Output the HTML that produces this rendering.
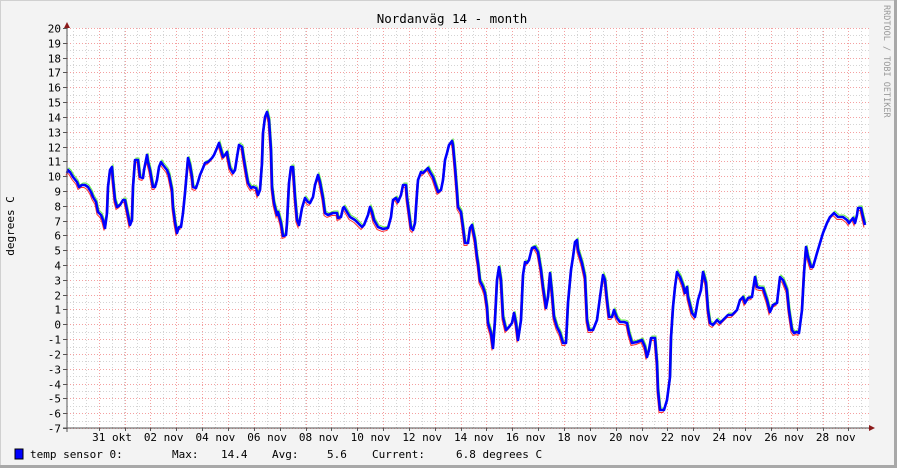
<!DOCTYPE html>
<html><head><meta charset="utf-8"><style>
html,body{margin:0;padding:0;background:#f3f3f3;}
svg{display:block;font-family:"DejaVu Sans Mono","Liberation Mono",monospace;}
</style></head><body>
<svg id="s" width="897" height="468" xmlns="http://www.w3.org/2000/svg">
<rect x="0" y="0" width="897" height="468" fill="#f3f3f3"/>
<rect x="0" y="0" width="897" height="1" fill="#d0d0d0"/>
<rect x="0" y="0" width="1" height="468" fill="#d0d0d0"/>
<rect x="0" y="465" width="897" height="3" fill="#a8a8a8"/>
<rect x="894" y="0" width="3" height="468" fill="#a8a8a8"/>
<rect x="67" y="28" width="802" height="400" fill="#ffffff"/>
<g id="grid"></g>
<g id="data"></g>
<line x1="67" y1="24" x2="67" y2="432" stroke="#555" stroke-width="1"/>
<line x1="63" y1="428" x2="870" y2="428" stroke="#555" stroke-width="1"/>
<polygon points="64,28 70,28 67,22" fill="#8b1a1a"/>
<polygon points="869,425 869,431 875,428" fill="#8b1a1a"/>
<g id="labels" font-size="11" fill="#000"></g>
<text x="452" y="23" font-size="12.5" text-anchor="middle" fill="#000">Nordanväg 14 - month</text>
<text transform="translate(14,226) rotate(-90)" font-size="11" text-anchor="middle" fill="#000">degrees C</text>
<text transform="translate(884,5) rotate(90)" font-size="8.5" fill="#999">RRDTOOL / TOBI OETIKER</text>
<rect x="15" y="449" width="8" height="10" fill="#0000ff" stroke="#000" stroke-width="1"/>
<g font-size="11" fill="#000">
<text x="30" y="458">temp sensor 0:</text>
<text x="172" y="458">Max:</text>
<text x="221" y="458">14.4</text>
<text x="272" y="458">Avg:</text>
<text x="327" y="458">5.6</text>
<text x="372" y="458">Current:</text>
<text x="456" y="458">6.8 degrees C</text>
</g>
</svg>
<script>
var NS="http://www.w3.org/2000/svg";
function el(p,t,a){var e=document.createElementNS(NS,t);for(var k in a)e.setAttribute(k,a[k]);p.appendChild(e);return e;}
var g=document.getElementById('grid'),lb=document.getElementById('labels');
var L=67,R=869,T=28,B=428,u=400/27;
function Y(v){return T+(20-v)*u;}
// minor horizontal
for(var v=-7;v<=20;v+=0.5){var y=Math.round(Y(v))+0.5;var maj=(v%1===0);
 el(g,'line',{x1:L,x2:R,y1:y,y2:y,stroke:maj?'#f4a0a0':'#d4d4d4','stroke-width':1,'stroke-dasharray':'1,2'});
 if(maj){el(g,'line',{x1:63,x2:67,y1:y,y2:y,stroke:'#555'});
  var t=el(lb,'text',{x:61,y:y+4,'text-anchor':'end'});t.textContent=String(v);}}
// verticals
for(var x=72.8;x<R;x+=12.925){var xx=Math.round(x)+0.5;
 el(g,'line',{x1:xx,x2:xx,y1:T,y2:B,stroke:'#d4d4d4','stroke-dasharray':'1,2'});}
for(var x=98.7;x<R;x+=25.85){var xx=Math.round(x)+0.5;
 el(g,'line',{x1:xx,x2:xx,y1:T,y2:B,stroke:'#f4a0a0','stroke-dasharray':'1,2'});
 el(g,'line',{x1:xx,x2:xx,y1:B,y2:B+3,stroke:'#555'});}
var labs=["31 okt","02 nov","04 nov","06 nov","08 nov","10 nov","12 nov","14 nov","16 nov","18 nov","20 nov","22 nov","24 nov","26 nov","28 nov"];
for(var i=0;i<labs.length;i++){var t=el(lb,'text',{x:112+i*51.7,y:441,'text-anchor':'middle'});t.textContent=labs[i];}
var pts="67,173 68,170 70,172 73,177 77,182 79,187 82,185 85,185 88,187 91,192 93,197 96,202 98,212 101,215 103,220 105,228 107,213 108,187 110,170 112,167 113,180 115,200 117,207 120,205 123,200 125,200 127,210 130,225 132,220 133,187 135,160 138,160 140,177 143,178 144,170 147,155 148,162 150,170 153,187 155,187 157,180 159,167 161,162 163,165 167,170 169,175 172,190 173,207 175,222 177,233 179,227 181,227 183,213 185,193 187,170 188,158 190,165 192,177 193,187 196,188 198,182 200,175 203,168 205,163 208,162 212,158 214,155 217,148 219,143 221,150 223,157 225,155 227,152 228,158 230,168 233,173 235,170 237,157 239,145 242,147 244,160 246,172 248,183 251,188 253,187 256,188 258,195 260,190 262,163 263,133 265,117 267,112 269,120 271,150 272,187 274,203 277,215 278,212 281,223 283,236 286,235 287,223 289,183 291,167 293,167 295,197 297,220 299,225 302,208 305,198 308,202 310,203 313,197 315,185 318,175 320,182 323,198 325,213 328,215 333,213 337,213 338,218 341,217 343,208 344,207 347,212 350,217 355,220 358,223 362,227 364,225 368,215 370,207 372,212 374,220 378,227 383,229 388,228 391,217 393,200 396,198 398,202 401,195 403,185 406,185 407,198 409,213 411,228 413,230 415,223 417,193 418,180 421,172 423,173 426,170 428,168 430,172 433,177 435,183 438,192 441,190 443,180 445,160 447,153 449,145 452,141 453,145 455,167 457,192 458,207 461,212 463,227 465,243 468,243 470,228 472,225 473,230 475,240 477,257 478,263 480,281 483,287 485,293 487,307 488,323 491,333 493,348 495,320 497,280 499,267 501,280 503,317 506,330 509,327 512,323 514,313 516,323 518,340 521,320 523,275 525,262 527,263 529,260 532,248 535,247 538,252 541,270 543,287 546,308 548,297 550,273 552,293 554,317 557,327 560,333 563,343 566,343 568,303 571,270 573,257 575,242 577,240 578,250 582,263 585,277 587,320 589,330 593,330 597,320 600,297 603,275 605,280 607,300 609,317 612,317 614,310 617,318 620,322 624,322 627,323 629,333 632,343 637,342 642,340 645,347 647,357 649,350 651,338 655,338 657,363 658,390 660,410 664,410 667,400 670,377 671,338 673,307 675,287 677,272 680,277 683,285 685,293 687,287 688,297 692,313 695,317 698,300 701,290 703,272 706,283 708,310 710,323 713,325 717,320 720,323 723,320 728,315 732,315 737,310 740,300 743,297 745,303 748,298 752,297 753,290 755,277 757,287 760,288 763,288 767,300 770,312 773,305 777,303 780,277 783,280 787,290 789,310 792,330 794,333 797,332 799,333 802,310 804,273 806,247 808,257 811,267 813,267 817,253 820,243 823,233 827,223 830,217 834,213 838,217 843,217 847,220 849,223 853,218 855,223 857,215 858,208 861,208 863,217 865,225";
var d=document.getElementById('data');
el(d,'polyline',{points:pts,fill:'none',stroke:'#66ee44','stroke-width':1,transform:'translate(1,-2)'});
el(d,'polyline',{points:pts,fill:'none',stroke:'#ff3030','stroke-width':1,transform:'translate(-1,2.5)'});
el(d,'polyline',{points:pts,fill:'none',stroke:'#0000ff','stroke-width':2.6,'stroke-linejoin':'round'});
</script>
</body></html>
